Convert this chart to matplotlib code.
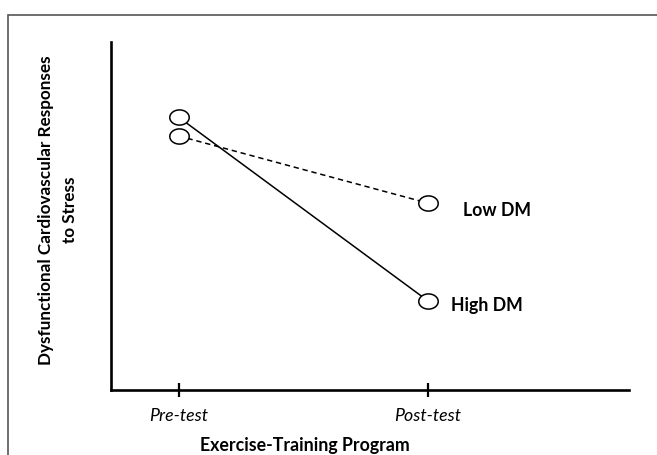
import matplotlib
matplotlib.use("Agg")
import matplotlib.pyplot as plt
from matplotlib.path import Path
from matplotlib.patches import Rectangle
import numpy as np

plt.rcParams['font.family'] = ['Lato', 'DejaVu Sans']

# Data
time_labels = ["Pre-test", "Post-test"]
high_dm = [7.84, 2.56]
low_dm = [7.30, 5.37]
series_names = ["High DM", "Low DM"]

W, H = 657, 455
fig = plt.figure(figsize=(W / 100, H / 100), dpi=100)

# outer gray frame (runs off the right and bottom edge)
fig.patches.append(Rectangle((8 / W, -0.1), 1.2, (H - 15) / H + 0.1,
                             transform=fig.transFigure, fill=False,
                             edgecolor="#555555", linewidth=1.2))

ax = fig.add_axes([111 / W, (H - 390) / H, (629 - 111) / W, (390 - 42) / H])

# ellipse marker
t = np.linspace(0, 2 * np.pi, 60)
ell = Path(np.column_stack([np.cos(t), 0.78 * np.sin(t)]))

x = np.arange(len(time_labels))
ax.plot(x, low_dm, color="black", linestyle=(0, (3.5, 2.5)), linewidth=1.1,
        marker=ell, markersize=14, markerfacecolor="white",
        markeredgecolor="black", markeredgewidth=1.1)
ax.plot(x, high_dm, color="black", linestyle="-", linewidth=1.1,
        marker=ell, markersize=14, markerfacecolor="white",
        markeredgecolor="black", markeredgewidth=1.1)

ax.set_xlim(-0.271, 1.806)
ax.set_ylim(0, 10)

for s in ["top", "right"]:
    ax.spines[s].set_visible(False)
for s in ["left", "bottom"]:
    ax.spines[s].set_linewidth(1.9)
ax.set_yticks([])
ax.set_xticks(x)
ax.set_xticklabels(time_labels, fontstyle="italic", fontsize=12.8)
ax.tick_params(axis="x", direction="inout", length=10, width=1.6, pad=8)

# series labels
ax.text(1 + (463 - 428) / 249.4, low_dm[1] - 0.22, series_names[1],
        fontsize=12.8, fontweight="bold", va="center", ha="left")
ax.text(1 + (451 - 428) / 249.4, high_dm[1] - 0.13, series_names[0],
        fontsize=12.8, fontweight="bold", va="center", ha="left")

fig.text(305 / W, 1 / H, "Exercise-Training Program", fontsize=12.8,
         fontweight="bold", ha="center", va="bottom")
fig.text(58 / W, 1 - 210 / H, "Dysfunctional Cardiovascular Responses\nto Stress",
         fontsize=12.3, fontweight="bold", rotation=90, ha="center",
         va="center", multialignment="center", linespacing=1.55)

fig.savefig("out.png", dpi=100)
